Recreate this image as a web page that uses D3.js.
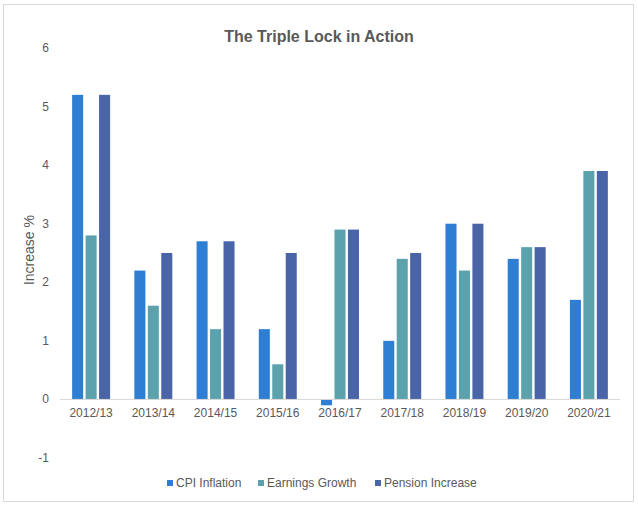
<!DOCTYPE html>
<html>
<head>
  <meta charset="utf-8">
  <script src="https://d3js.org/d3.v7.min.js"></script>
  <style>
    body { margin: 0; background: #fff; }
    text { font-family: "Liberation Sans", Arial, sans-serif; fill: #595959; }
  </style>
</head>
<body>
<script>
  // Chart data
  var years = ['2012/13', '2013/14', '2014/15', '2015/16', '2016/17',
               '2017/18', '2018/19', '2019/20', '2020/21'];
  var seriesNames = ['CPI Inflation', 'Earnings Growth', 'Pension Increase'];
  var cpiInflation    = [5.2, 2.2, 2.7, 1.2, -0.1, 1.0, 3.0, 2.4, 1.7];
  var earningsGrowth  = [2.8, 1.6, 1.2, 0.6, 2.9, 2.4, 2.2, 2.6, 3.9];
  var pensionIncrease = [5.2, 2.5, 2.7, 2.5, 2.9, 2.5, 3.0, 2.6, 3.9];
  var yTicks = [-1, 0, 1, 2, 3, 4, 5, 6];

  var colors = ['#2e7fd3', '#5ba2ac', '#4a64a8'];
  var allSeries = [cpiInflation, earningsGrowth, pensionIncrease];

  var width = 638, height = 506;
  var plot = { left: 60, right: 620, top: 48, bottom: 458 };

  var svg = d3.select('body').append('svg')
      .attr('width', width)
      .attr('height', height);

  // outer border
  svg.append('rect')
      .attr('x', 3.5).attr('y', 4.5)
      .attr('width', 630).attr('height', 497)
      .attr('fill', '#fff')
      .attr('stroke', '#d9d9d9');

  // title
  svg.append('text')
      .attr('x', 319).attr('y', 42)
      .attr('text-anchor', 'middle')
      .style('font-size', '16px')
      .style('font-weight', 'bold')
      .text('The Triple Lock in Action');

  var x0 = d3.scaleBand()
      .domain(years)
      .range([plot.left, plot.right])
      .paddingInner(0.39)
      .paddingOuter(0.195);

  var x1 = d3.scaleBand()
      .domain(d3.range(seriesNames.length))
      .range([0, x0.bandwidth()])
      .paddingInner(0.18);

  var y = d3.scaleLinear()
      .domain([-1, 6])
      .range([plot.bottom, plot.top]);

  // y tick labels (no axis line in the original)
  svg.append('g').selectAll('text')
    .data(yTicks)
    .join('text')
      .attr('x', 49)
      .attr('y', function(d) { return y(d) + 4; })
      .attr('text-anchor', 'end')
      .style('font-size', '12px')
      .text(function(d) { return d; });

  // y axis title
  svg.append('text')
      .attr('transform', 'translate(34,' + y(2.55) + ') rotate(-90)')
      .attr('text-anchor', 'middle')
      .style('font-size', '14px')
      .text('Increase %');

  // bars
  var groups = svg.append('g').selectAll('g')
    .data(years)
    .join('g')
      .attr('transform', function(d) { return 'translate(' + x0(d) + ',0)'; });

  groups.selectAll('rect')
    .data(function(d, i) {
      return allSeries.map(function(s, k) { return { k: k, v: s[i] }; });
    })
    .join('rect')
      .attr('x', function(d) { return x1(d.k); })
      .attr('y', function(d) { return y(Math.max(0, d.v)); })
      .attr('width', x1.bandwidth())
      .attr('height', function(d) { return Math.abs(y(d.v) - y(0)); })
      .attr('fill', function(d) { return colors[d.k]; });

  // zero line
  svg.append('line')
      .attr('x1', plot.left).attr('x2', plot.right)
      .attr('y1', y(0)).attr('y2', y(0))
      .attr('stroke', '#d9d9d9')
      .attr('stroke-width', 1);

  // x labels
  svg.append('g').selectAll('text')
    .data(years)
    .join('text')
      .attr('x', function(d) { return x0(d) + x0.bandwidth() / 2; })
      .attr('y', y(0) + 18)
      .attr('text-anchor', 'middle')
      .style('font-size', '12px')
      .text(function(d) { return d; });

  // legend
  var legendX = [167, 258, 375];
  var legend = svg.append('g').selectAll('g')
    .data(seriesNames)
    .join('g')
      .attr('transform', function(d, i) { return 'translate(' + legendX[i] + ',479)'; });

  legend.append('rect')
      .attr('width', 6).attr('height', 6).attr('y', 1)
      .attr('fill', function(d, i) { return colors[i]; });

  legend.append('text')
      .attr('x', 9).attr('y', 8)
      .style('font-size', '12px')
      .text(function(d) { return d; });
</script>
</body>
</html>
